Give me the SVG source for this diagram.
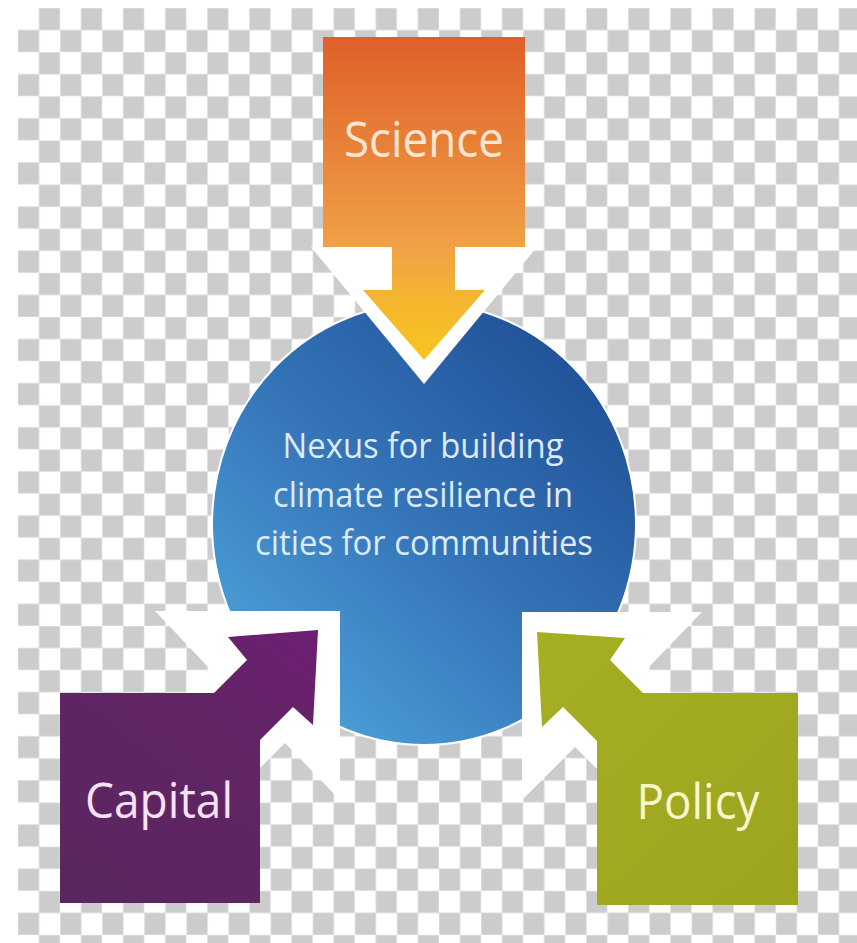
<svg xmlns="http://www.w3.org/2000/svg" width="857" height="943" viewBox="0 0 857 943">
<defs>
  <pattern id="checker" x="18" y="8" width="42.1" height="44.14" patternUnits="userSpaceOnUse">
    <rect x="0" y="0" width="42.1" height="44.14" fill="#ffffff"/>
    <rect x="21.05" y="0" width="21.05" height="22.07" fill="#cccccc" stroke="#e2e2e2" stroke-width="1"/>
    <rect x="0" y="22.07" width="21.05" height="22.07" fill="#cccccc" stroke="#e2e2e2" stroke-width="1"/>
  </pattern>
  <linearGradient id="gScience" gradientUnits="userSpaceOnUse" x1="0" y1="37" x2="0" y2="360">
    <stop offset="0" stop-color="#df5f2a"/>
    <stop offset="0.65" stop-color="#f0a146"/>
    <stop offset="0.8" stop-color="#f4b431"/>
    <stop offset="1" stop-color="#f8c61e"/>
  </linearGradient>
  <linearGradient id="gNexus" gradientUnits="userSpaceOnUse" x1="250" y1="720" x2="610" y2="330">
    <stop offset="0" stop-color="#4fa6dc"/>
    <stop offset="0.5" stop-color="#3473b7"/>
    <stop offset="1" stop-color="#1e4c92"/>
  </linearGradient>
  <linearGradient id="gCapital" gradientUnits="userSpaceOnUse" x1="310" y1="630" x2="100" y2="900">
    <stop offset="0" stop-color="#6d1f72"/>
    <stop offset="0.4" stop-color="#612464"/>
    <stop offset="1" stop-color="#5b2660"/>
  </linearGradient>
  <linearGradient id="gPolicy" gradientUnits="userSpaceOnUse" x1="540" y1="630" x2="790" y2="900">
    <stop offset="0" stop-color="#a6ae22"/>
    <stop offset="1" stop-color="#9da520"/>
  </linearGradient>
  <style>
    .label { font-family: "Open Sans", "Noto Sans", "Liberation Sans", sans-serif; text-anchor: middle; }
    .big { font-size: 50px; }
    .mid { font-size: 34px; fill: #dcebfb; }
    .white { fill: #ffffff; }
  </style>
</defs>

<rect x="0" y="0" width="857" height="943" fill="#ffffff"/>
<rect x="18" y="8" width="839" height="935" fill="url(#checker)"/>

<g id="nexus">
  <ellipse cx="424" cy="524" rx="212" ry="221" fill="url(#gNexus)" stroke="#ffffff" stroke-width="2"/>
  <text class="label mid" x="423" y="458" textLength="281" lengthAdjust="spacingAndGlyphs">Nexus for building</text>
  <text class="label mid" x="423" y="507" textLength="300" lengthAdjust="spacingAndGlyphs">climate resilience in</text>
  <text class="label mid" x="424" y="555" textLength="338" lengthAdjust="spacingAndGlyphs">cities for communities</text>
</g>

<g id="connectors">
  <polygon class="white" points="311,247 537,247 424,384"/>
  <polygon class="white" points="155,611 340,611 340,800 285,743 240,788 170,709 210,669"/>
  <polygon class="white" points="522,612 702,612 647,669 690,712 620,792 575,747 522,800"/>
  <polygon fill="url(#gScience)" points="392,240 455,240 455,290 485,290 424,360 363,290 392,290"/>
  <polygon fill="url(#gCapital)" points="200,707 247,660 228,637 318,630 313,725 293,707 250,750"/>
  <polygon fill="url(#gPolicy)" points="657,707 610,660 625,638 537,632 542,727 563,707 607,751"/>
</g>

<g id="science">
  <rect x="323" y="37" width="202" height="210" fill="url(#gScience)"/>
  <text class="label big" x="424" y="157" fill="#fde6cf" textLength="160" lengthAdjust="spacingAndGlyphs">Science</text>
</g>

<g id="capital">
  <rect x="60" y="693" width="200" height="210" fill="url(#gCapital)"/>
  <text class="label big" x="159" y="818" fill="#f6e2f4" textLength="148" lengthAdjust="spacingAndGlyphs">Capital</text>
</g>

<g id="policy">
  <rect x="597" y="693" width="201" height="212" fill="url(#gPolicy)"/>
  <text class="label big" x="698" y="819" fill="#f7f6cc" textLength="123" lengthAdjust="spacingAndGlyphs">Policy</text>
</g>
</svg>
